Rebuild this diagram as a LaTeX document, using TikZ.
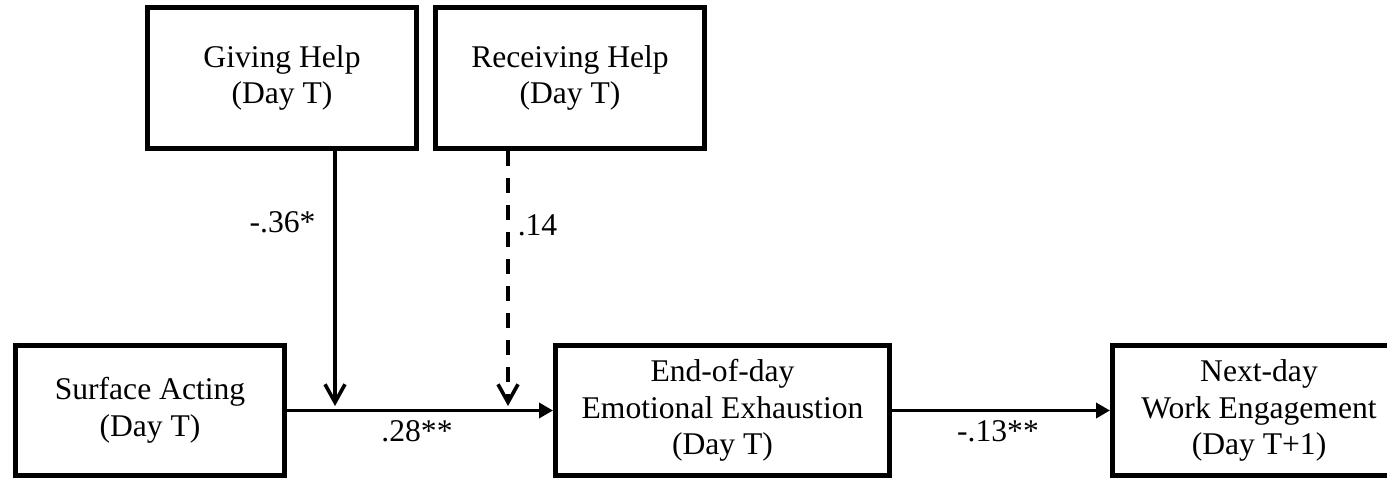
\documentclass[tikz,border=0pt]{standalone}
\usepackage{fontspec}
\setmainfont{Liberation Serif}
\usetikzlibrary{arrows.meta}
\begin{document}
\begin{tikzpicture}[x=0.5pt,y=-0.5pt,
    var/.style={draw,line width=2.5pt,minimum width=134.5pt,minimum height=65pt,inner sep=0pt,align=center,font=\fontsize{15.8}{18.25}\selectfont},
    coef/.style={anchor=base,inner sep=0pt,font=\fontsize{15.8}{18.25}\selectfont},
    effect/.style={line width=1.8pt,-{Triangle[length=7pt,width=7.5pt]}},
    moderation/.style={line width=1.8pt,-{Straight Barb[length=9pt,width=10pt]}}]
    \useasboundingbox (0,0) rectangle (1387,480);
    \node[var,minimum height=70.5pt] (giving) at (282,78) {Giving Help\\(Day T)};
    \node[var,minimum height=70.5pt] (receiving) at (570,78) {Receiving Help\\(Day T)};
    \node[var] (surface) at (150,410.5) {Surface Acting\\(Day T)};
    \node[var,minimum width=167pt] (exhaustion) at (722.5,410.5) {End-of-day\\Emotional Exhaustion\\(Day T)};
    \node[var,minimum width=146.5pt] (engagement) at (1259,410.5) {Next-day\\Work Engagement\\(Day T+1)};
    \coordinate (gj) at (335,406);
    \coordinate (rj) at (508,406);
    \draw[effect] (surface) -- (exhaustion);
    \draw[effect] (exhaustion) -- (engagement);
    \draw[moderation] (giving.south -| gj) -- (gj);
    \draw[moderation,dash pattern=on 7.5pt off 6pt] (receiving.south -| rj) -- (rj);
    \node[coef] (lgiving) at (282.5,233) {-.36*};
    \node[coef] (lreceiving) at (537.5,236) {.14};
    \node[coef] (lsurface) at (417,442) {.28**};
    \node[coef] (lexhaustion) at (998,442) {-.13**};
\end{tikzpicture}
\end{document}
